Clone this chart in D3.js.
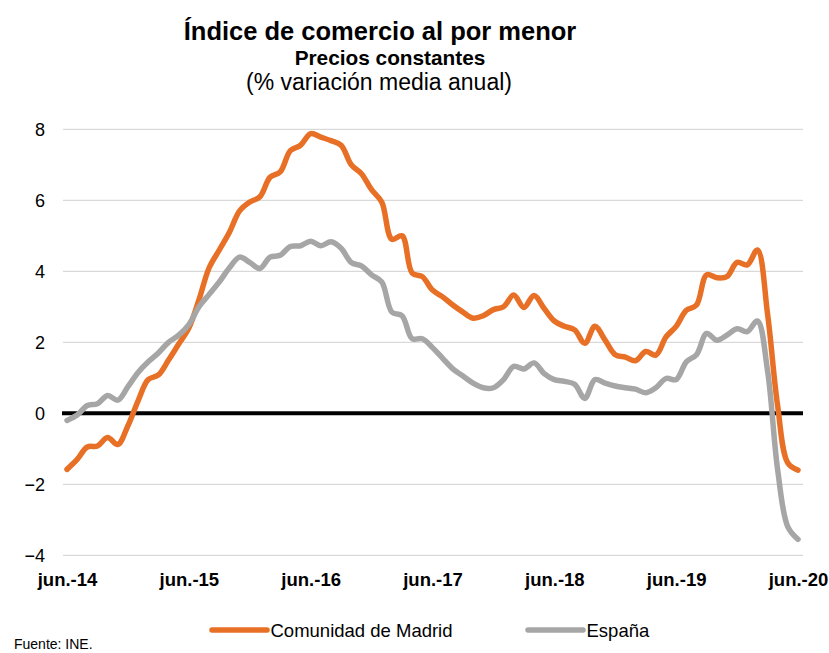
<!DOCTYPE html>
<html>
<head>
<meta charset="utf-8">
<script src="https://cdn.jsdelivr.net/npm/d3@7/dist/d3.min.js"></script>
<style>
  html, body { margin: 0; padding: 0; background: #fff; }
  svg { display: block; font-family: "Liberation Sans", Arial, sans-serif; }
</style>
</head>
<body>
<svg id="chart" width="829" height="653"></svg>
<script>
// ---- Data ----
const monthAbbr = ["jun.", "jul.", "ago.", "sep.", "oct.", "nov.", "dic.", "ene.", "feb.", "mar.", "abr.", "may."];
const years = ["14", "15", "16", "17", "18", "19", "20"];
const tickLabels = ["jun.-14", "jun.-15", "jun.-16", "jun.-17", "jun.-18", "jun.-19", "jun.-20"];
const yTicks = [-4, -2, 0, 2, 4, 6, 8];

const madrid = [
  -1.58, -1.30, -0.95, -0.92, -0.68, -0.88, -0.35, 0.35, 0.95, 1.08, 1.50, 1.95,
  2.40, 3.20, 4.10, 4.60, 5.10, 5.70, 5.95, 6.10, 6.65, 6.80, 7.40, 7.55,
  7.88, 7.78, 7.68, 7.55, 7.00, 6.75, 6.30, 5.95, 4.90, 5.00, 3.95, 3.85,
  3.47, 3.28, 3.05, 2.85, 2.68, 2.75, 2.92, 3.00, 3.33, 2.98, 3.32, 2.95,
  2.60, 2.45, 2.35, 1.97, 2.45, 2.06, 1.65, 1.58, 1.48, 1.74, 1.64, 2.15,
  2.45, 2.90, 3.05, 3.90, 3.82, 3.85, 4.25, 4.18, 4.60, 2.80, 0.20, -1.40,
  -1.60
];
const espana = [
  -0.20, -0.05, 0.22, 0.27, 0.50, 0.37, 0.75, 1.15, 1.45, 1.70, 2.00, 2.20,
  2.50, 3.00, 3.35, 3.70, 4.10, 4.40, 4.25, 4.08, 4.40, 4.45, 4.70, 4.72,
  4.85, 4.72, 4.83, 4.65, 4.25, 4.15, 3.90, 3.70, 2.85, 2.75, 2.10, 2.10,
  1.85, 1.55, 1.25, 1.05, 0.85, 0.72, 0.72, 0.95, 1.32, 1.25, 1.42, 1.12,
  0.95, 0.90, 0.82, 0.42, 0.95, 0.85, 0.77, 0.72, 0.68, 0.58, 0.72, 0.98,
  0.95, 1.45, 1.65, 2.25, 2.06, 2.20, 2.38, 2.30, 2.60, 1.20, -1.60, -3.20,
  -3.55
];
const seriesNames = ["Comunidad de Madrid", "España"];
const seriesColors = ["#E87026", "#A6A6A6"];

// Build month categories jun.-14 .. jun.-20
const months = [];
for (let i = 0; i < madrid.length; i++) {
  const m = i % 12;
  const yIdx = Math.floor((i + 5) / 12);
  months.push(monthAbbr[m] + "-" + years[yIdx]);
}

// ---- Layout ----
const svg = d3.select("#chart");
const x = d3.scalePoint().domain(months).range([67, 798]);
const y = d3.scaleLinear().domain([-4, 8]).range([555.3, 129.3]);

// Gridlines
svg.append("g")
  .selectAll("line")
  .data(yTicks.filter(d => d !== 0))
  .join("line")
  .attr("x1", 63).attr("x2", 803)
  .attr("y1", d => y(d)).attr("y2", d => y(d))
  .attr("stroke", "#d9d9d9").attr("stroke-width", 1.3);

// Y axis labels
const yAxis = d3.axisLeft(y).tickValues(yTicks).tickSize(0).tickPadding(0).tickFormat(d3.format("d"));
const gy = svg.append("g").attr("transform", "translate(45,0)").call(yAxis);
gy.select(".domain").remove();
gy.selectAll("text")
  .attr("font-family", "Liberation Sans, Arial, sans-serif")
  .attr("font-size", 18).attr("fill", "#000");

// Zero line
svg.append("line")
  .attr("x1", 62).attr("x2", 803)
  .attr("y1", y(0)).attr("y2", y(0))
  .attr("stroke", "#000").attr("stroke-width", 4);

// X axis labels
const xAxis = d3.axisBottom(x)
  .tickValues(tickLabels)
  .tickSize(0).tickPadding(0);
const gx = svg.append("g").attr("transform", "translate(0,572)").call(xAxis);
gx.select(".domain").remove();
gx.selectAll("text")
  .attr("dy", null).attr("y", 13.5)
  .attr("font-family", "Liberation Sans, Arial, sans-serif")
  .attr("font-size", 18.5).attr("font-weight", "bold").attr("fill", "#000");

// Lines
const line = d3.line()
  .x((d, i) => x(months[i]))
  .y(d => y(d))
  .curve(d3.curveCatmullRom.alpha(0.5));

[madrid, espana].forEach((s, k) => {
  svg.append("path")
    .datum(s)
    .attr("d", line)
    .attr("fill", "none")
    .attr("stroke", seriesColors[k])
    .attr("stroke-width", 5.5)
    .attr("stroke-linejoin", "round")
    .attr("stroke-linecap", "round");
});

// Titles
svg.append("text").attr("x", 380).attr("y", 40)
  .attr("text-anchor", "middle").attr("font-size", 25.5).attr("font-weight", "bold")
  .text("Índice de comercio al por menor");
svg.append("text").attr("x", 390).attr("y", 64.5)
  .attr("text-anchor", "middle").attr("font-size", 20.8).attr("font-weight", "bold")
  .text("Precios constantes");
svg.append("text").attr("x", 379).attr("y", 90)
  .attr("text-anchor", "middle").attr("font-size", 23)
  .text("(% variación media anual)");

// Legend
const legendX = [212, 528];
seriesNames.forEach((name, k) => {
  const g = svg.append("g").attr("transform", `translate(${legendX[k]},630)`);
  g.append("line").attr("x1", 0).attr("x2", 55).attr("y1", 0).attr("y2", 0)
    .attr("stroke", seriesColors[k]).attr("stroke-width", 5.5).attr("stroke-linecap", "round");
  g.append("text").attr("x", 58.5).attr("y", 6.5)
    .attr("font-size", 18.5).attr("fill", "#000").text(name);
});

// Source
svg.append("text").attr("x", 14).attr("y", 649)
  .attr("font-size", 14).attr("fill", "#000").text("Fuente: INE.");
</script>
</body>
</html>
